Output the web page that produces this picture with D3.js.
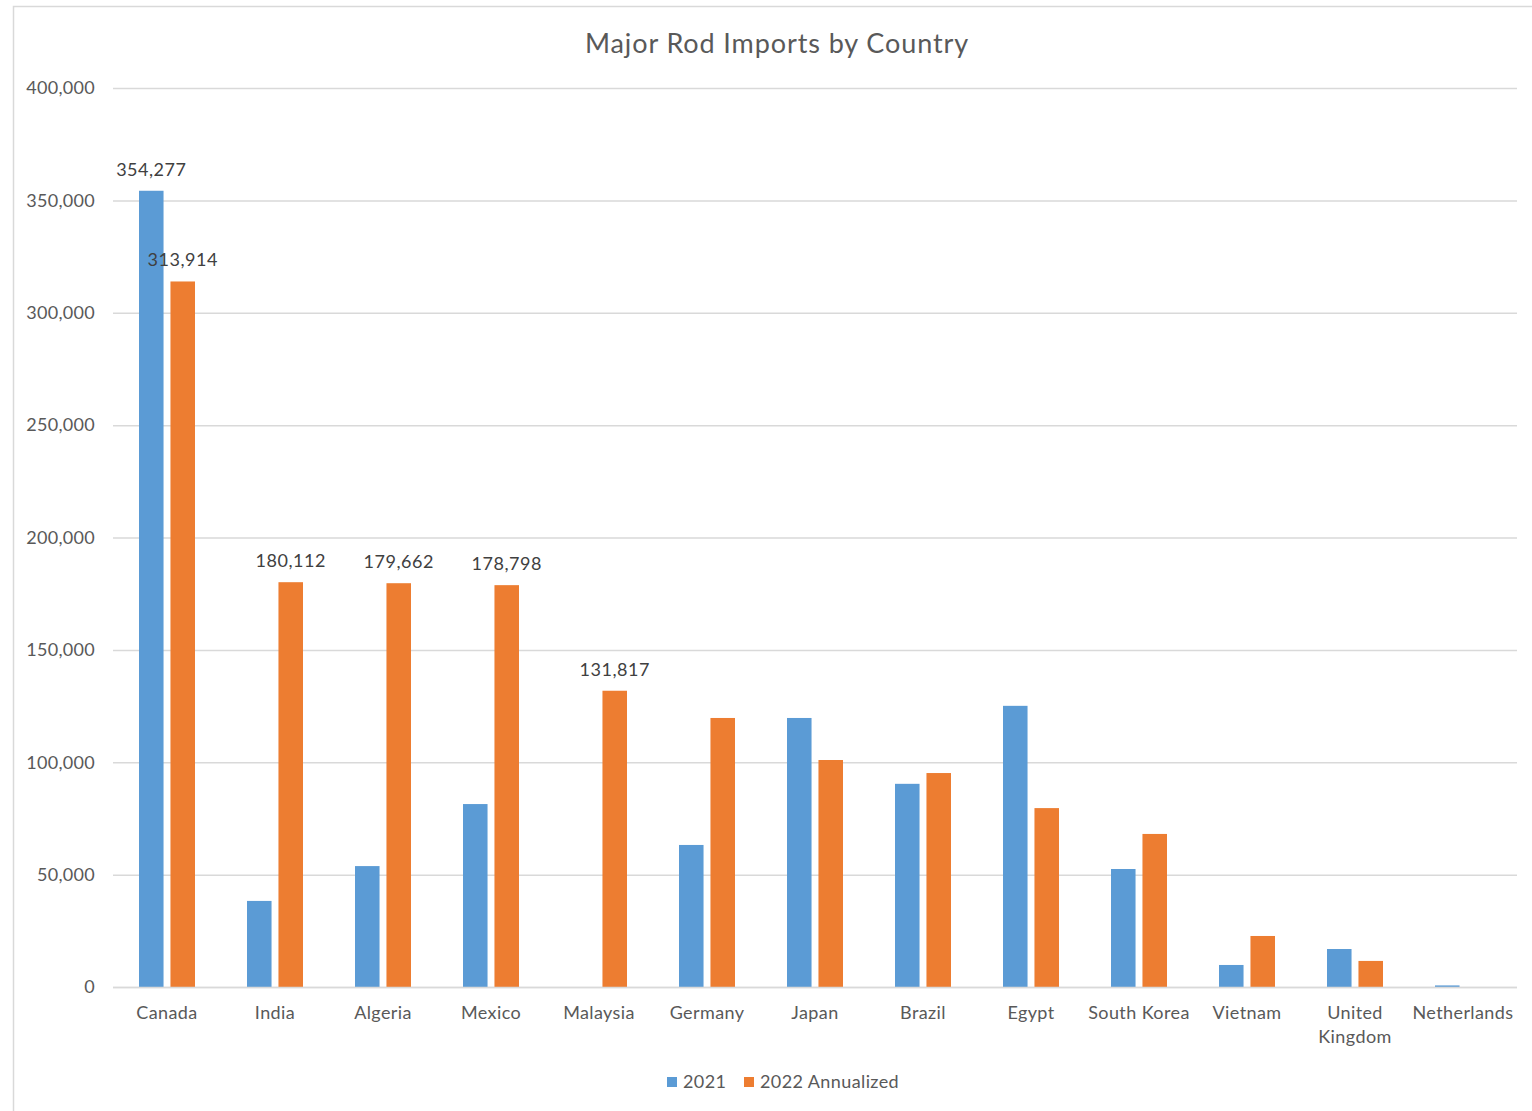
<!DOCTYPE html>
<html>
<head>
<meta charset="utf-8">
<script src="https://cdn.jsdelivr.net/npm/d3@7"></script>
<style>
body{margin:0;background:#fff;}
svg{font-family:Lato,"Open Sans",sans-serif;}
</style>
</head>
<body>
<svg id="canvas" width="1532" height="1111"></svg>
<script>
let countries=["Canada","India","Algeria","Mexico","Malaysia","Germany","Japan","Brazil","Egypt","South Korea","Vietnam","United Kingdom","Netherlands"];
let series=["2021","2022 Annualized"];
let v2021=[354277,38300,53800,81400,0,63200,119700,90400,125100,52500,9800,16900,700];
let v2022=[313914,180112,179662,178798,131817,119700,101000,95200,79600,68100,22700,11600,0];
let labelled2021=[0];
let labelled2022=[0,1,2,3,4];
let yTicks=[0,50000,100000,150000,200000,250000,300000,350000,400000];
let colors=["#5B9BD5","#ED7D31"];

let canvas=d3.select("#canvas");
let w=1532,h=1111;
let padL=113,padR=1517,padT=88,padB=987;

// outer frame
canvas.append("rect").attr("x",13.5).attr("y",6.5).attr("width",w+20).attr("height",h+20).attr("fill","none").attr("stroke","#D9D9D9").attr("stroke-width",1.5);

let xScale=d3.scaleBand().domain(countries).range([padL,padR]);
let xInner=d3.scaleBand().domain(series).range([26,82]).paddingInner(0.22);
let yScale=d3.scaleLinear().domain([0,400000]).range([padB,padT]);

// gridlines
canvas.append("g").selectAll("line").data(yTicks).enter().append("line")
  .attr("x1",padL).attr("x2",padR)
  .attr("y1",d=>yScale(d)+0.5).attr("y2",d=>yScale(d)+0.5)
  .attr("stroke","#D9D9D9").attr("stroke-width",1.5);

let yAxis=d3.axisLeft(yScale).tickValues(yTicks).tickFormat(d3.format(",")).tickSize(0).tickPadding(18);
canvas.append("g").attr("transform","translate("+padL+",0)").call(yAxis)
  .call(g=>g.select(".domain").remove())
  .selectAll("text").style("font-size","18px").style("font-family","Lato,sans-serif").style("letter-spacing","0.3px").attr("fill","#595959");

let rows=countries.map((c,i)=>({c:c,vals:[v2021[i],v2022[i]]}));
let groups=canvas.append("g").selectAll("g").data(rows).enter().append("g")
  .attr("transform",d=>"translate("+xScale(d.c)+",0)");
groups.selectAll("rect").data(d=>d.vals.map((v,k)=>({s:series[k],v:v,k:k}))).enter().append("rect")
  .attr("x",d=>xInner(d.s)).attr("width",xInner.bandwidth())
  .attr("y",d=>yScale(d.v)).attr("height",d=>padB-yScale(d.v))
  .attr("fill",d=>colors[d.k]);

// data labels
let labels=[];
labelled2021.forEach(i=>labels.push({c:countries[i],s:series[0],v:v2021[i]}));
labelled2022.forEach(i=>labels.push({c:countries[i],s:series[1],v:v2022[i]}));
canvas.append("g").selectAll("text").data(labels).enter().append("text")
  .attr("x",d=>xScale(d.c)+xInner(d.s)+xInner.bandwidth()/2)
  .attr("y",d=>yScale(d.v)-15)
  .attr("text-anchor","middle").style("font-size","18px").style("letter-spacing","0.5px").attr("fill","#404040")
  .text(d=>d3.format(",")(d.v));

// axis baseline
canvas.append("line").attr("x1",padL).attr("x2",padR).attr("y1",padB+0.5).attr("y2",padB+0.5).attr("stroke","#D9D9D9").attr("stroke-width",1.5);

// x labels
let xl=canvas.append("g").selectAll("text").data(countries).enter().append("text")
  .attr("x",d=>xScale(d)+xScale.bandwidth()/2).attr("y",padB+32)
  .attr("text-anchor","middle").style("font-size","18px").style("letter-spacing","0.4px").attr("fill","#595959");
xl.each(function(d){
  let t=d3.select(this);
  let parts=d==="United Kingdom"?["United","Kingdom"]:[d];
  parts.forEach((p,i)=>t.append("tspan").attr("x",xScale(d)+xScale.bandwidth()/2).attr("dy",i?24:0).text(p));
});

// title
canvas.append("text").attr("x",777).attr("y",53).attr("text-anchor","middle")
  .style("font-size","27px").style("letter-spacing","0.9px").attr("fill","#595959").text("Major Rod Imports by Country");

// legend
let legendX=[667,744];
let lg=canvas.append("g").selectAll("g").data(series).enter().append("g")
  .attr("transform",(d,i)=>"translate("+legendX[i]+",1077)");
lg.append("rect").attr("width",10).attr("height",10).attr("fill",(d,i)=>colors[i]);
lg.append("text").attr("x",16).attr("y",11).style("font-size","18px").style("letter-spacing","0.4px").attr("fill","#595959").text(d=>d);
</script>
</body>
</html>
